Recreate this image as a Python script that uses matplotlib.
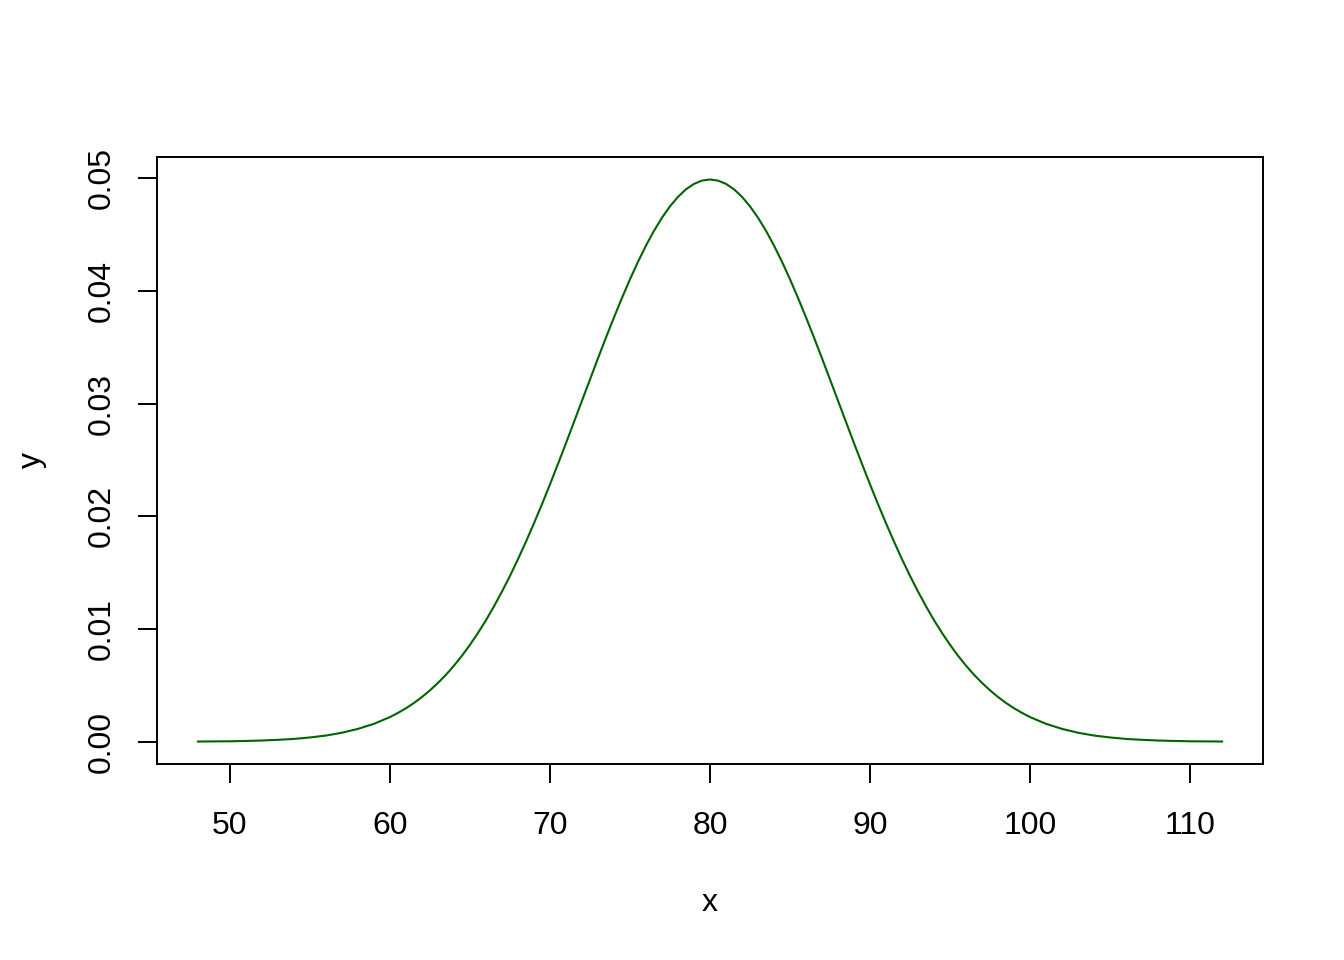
import numpy as np
import matplotlib
matplotlib.use("Agg")
from matplotlib import pyplot as plt

# density: unit steps in the flat tails, half steps in the body
x_left = list(range(48, 60)) + [60 + 0.5*i for i in range(41)]
y_left = [0.00002, 0.00003, 0.00004, 0.00007, 0.00011, 0.00017, 0.00025, 0.00038,
          0.00055, 0.00080, 0.00114, 0.00159,
          0.00219, 0.00256, 0.00297, 0.00344, 0.00397, 0.00456, 0.00522, 0.00594,
          0.00675, 0.00763, 0.00860, 0.00965, 0.01078, 0.01201, 0.01332, 0.01471,
          0.01619, 0.01775, 0.01938, 0.02107, 0.02283, 0.02464, 0.02648, 0.02836,
          0.03025, 0.03213, 0.03401, 0.03585, 0.03764, 0.03937, 0.04102, 0.04257,
          0.04401, 0.04532, 0.04648, 0.04749, 0.04833, 0.04900, 0.04948, 0.04977,
          0.04987]
# right half mirrors the left about x = 80
x_vals = x_left + [160 - v for v in x_left[-2::-1]]
y_vals = y_left + y_left[-2::-1]

x_ticks = [50, 60, 70, 80, 90, 100, 110]
y_ticks = [0.00, 0.01, 0.02, 0.03, 0.04, 0.05]
y_labels = ["0.00", "0.01", "0.02", "0.03", "0.04", "0.05"]

plt.rcParams['font.family'] = ['Liberation Sans', 'DejaVu Sans']
fs = 23

fig = plt.figure(figsize=(13.44, 9.6), dpi=100)
ax = fig.add_axes([157/1344, 1 - 764/960, (1263-157)/1344, (764-157)/960])

ax.plot(x_vals, y_vals, color="#006400", linewidth=1.5)

# R style 4% padding
xr = max(x_vals) - min(x_vals)
ax.set_xlim(min(x_vals) - 0.04*xr, max(x_vals) + 0.04*xr)
yr = max(y_vals) - min(y_vals)
ax.set_ylim(min(y_vals) - 0.04*yr, max(y_vals) + 0.04*yr)

ax.set_xticks(x_ticks)
ax.set_xticklabels([str(t) for t in x_ticks], fontsize=fs)
ax.set_yticks(y_ticks)
ax.set_yticklabels(y_labels, fontsize=fs, rotation=90, va="center")

ax.tick_params(direction="out", length=13.7, width=1.4, colors="black")
ax.tick_params(axis="x", pad=20.5)
ax.tick_params(axis="y", pad=15)
for s in ax.spines.values():
    s.set_linewidth(1.4)
    s.set_color("black")

ax.set_xlabel("x", fontsize=fs, labelpad=33.5)
ax.set_ylabel("y", fontsize=fs, labelpad=29)

fig.savefig("out.png", dpi=100)
